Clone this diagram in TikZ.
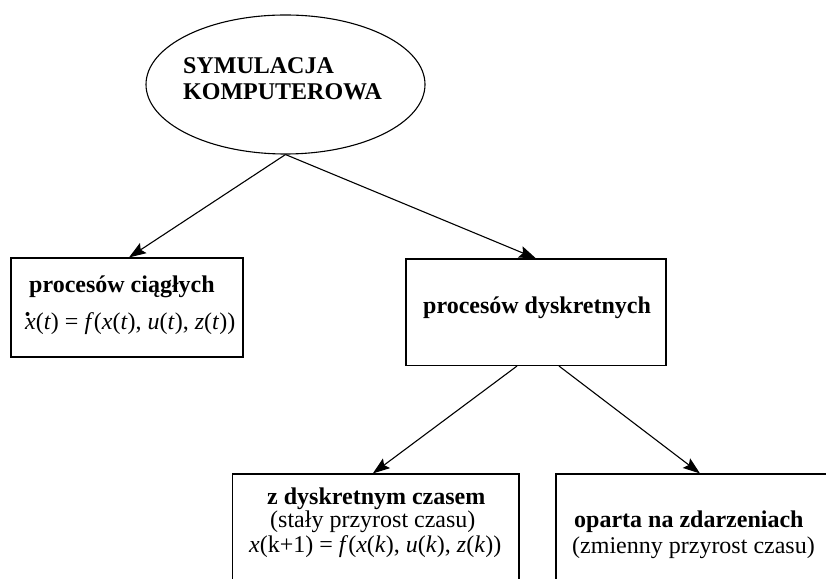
\documentclass[tikz,border=0pt]{standalone}
\usepackage{fontspec}
\setmainfont{Liberation Serif}
\usetikzlibrary{arrows.meta,shapes.geometric}
\tikzset{
  frame/.style={draw, line width=1.1pt, rectangle, inner sep=0pt},
  lbl/.style={inner sep=0pt, anchor=base west, font=\fontsize{24}{28}\selectfont},
  blbl/.style={lbl, font=\fontsize{24}{28}\selectfont\bfseries},
  conn/.style={line width=1.1pt, -{Stealth[length=17pt,width=12pt,inset=3pt]}}
}
\begin{document}
\begin{tikzpicture}[x=1pt,y=1pt]
\useasboundingbox (0,0) rectangle (826,578);
\clip (0,0) rectangle (826,578);
% shapes
\node[draw, line width=1.1pt, ellipse, minimum width=279pt, minimum height=139pt, inner sep=0pt] (sim) at (285.5,493.5) {};
\node[frame, minimum width=232pt, minimum height=99pt] (b1) at (127,270.5) {};
\node[frame, minimum width=260pt, minimum height=106.5pt] (b2) at (536,265.75) {};
\node[frame, minimum width=286.3pt, minimum height=124pt] (b3) at (375.85,42) {};
\node[frame, minimum width=344pt, minimum height=124pt] (b4) at (728,42) {};
% texts
\node[blbl] (s1) at (183,504) {SYMULACJA};
\node[blbl] (s2) at (183,478) {KOMPUTEROWA};
\node[blbl] (t1) at (29,285) {procesów ciągłych};
\node[lbl] (f1) at (25,248) {\textit{x}(\textit{t}) = \textit{f}(\textit{x}(\textit{t}), \textit{u}(\textit{t}), \textit{z}(\textit{t}))};
\fill ([shift={(2.5,16)}]f1.base west) circle (2);
\node[blbl] (t2) at (423,264) {procesów dyskretnych};
\node[blbl] (t3a) at (267,74) {z dyskretnym czasem};
\node[lbl] (t3b) at (270,51) {(stały przyrost czasu)};
\node[lbl] (t3c) at (249,26) {\textit{x}(k+1) = \textit{f}(\textit{x}(\textit{k}), \textit{u}(\textit{k}), \textit{z}(\textit{k}))};
\node[blbl] (t4a) at (574,51) {oparta na zdarzeniach};
\node[lbl] (t4b) at (572,25) {(zmienny przyrost czasu)};
% connectors
\draw[conn] (sim.south) -- ([xshift=2pt]b1.north);
\draw[conn] (sim.south) -- (b2.north);
\draw[conn] ([xshift=-19pt]b2.south) -- ([xshift=-3pt]b3.north);
\draw[conn] ([xshift=23pt]b2.south) -- ([xshift=-28pt]b4.north);
\end{tikzpicture}
\end{document}
